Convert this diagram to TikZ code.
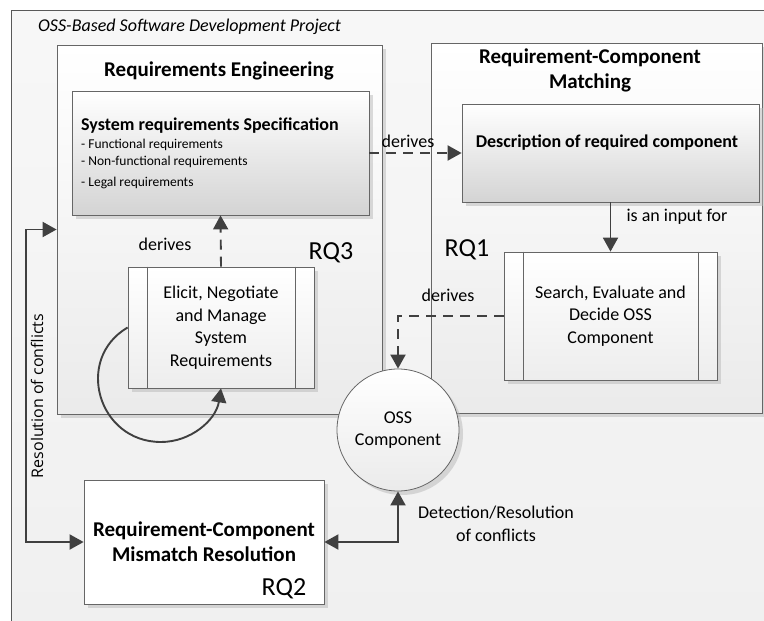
\documentclass[tikz,border=0pt]{standalone}
\usepackage{fontspec}
\setmainfont{Carlito}
\newfontfamily\sidefont{Open Sans}
\usetikzlibrary{arrows.meta,shadows}

\begin{document}
\begin{tikzpicture}[x=1pt,y=-1pt,>={Triangle[length=14pt,width=15pt]},
	box/.style={draw=black!60,line width=0.8pt,inner sep=0pt,
		drop shadow={shadow xshift=4pt,shadow yshift=-4pt,fill=black!28}},
	panel/.style={box,top color=white,bottom color=black!8},
	sheet/.style={box,top color=white,bottom color=black!17},
	proc/.style={box,top color=white,bottom color=black!7,
		font=\fontsize{18}{22.5}\selectfont,align=center},
	conn/.style={draw=black!75,line width=1.9pt},
	dashconn/.style={conn,dash pattern=on 10pt off 7pt},
	lab/.style={font=\fontsize{18}{22.5}\selectfont,align=center,inner sep=0pt},
	head/.style={font=\fontsize{21}{25}\selectfont\bfseries,align=center,inner sep=0pt},
	rq/.style={font=\fontsize{26}{30}\selectfont,inner sep=0pt}]
	\useasboundingbox (0,0) rectangle (764,621);
	\fill[top color=black!3,bottom color=black!6] (11,10) rectangle (800,660);
	\draw[black!65,line width=0.8pt] (800,10) -- (11,10) -- (11,660);
	\node[anchor=west,lab,font=\fontsize{18}{22}\selectfont\itshape] (project) at (38,27) {OSS-Based Software Development Project};

	\node[panel,minimum width=325pt,minimum height=369pt] (re) at (219.5,229.5) {};
	\node[panel,minimum width=331pt,minimum height=370pt] (rcm) at (596.5,228) {};
	\node[head] (retitle) at (219,71) {Requirements Engineering};
	\node[head] (rcmtitle) at (590,70) {Requirement-Component\\Matching};

	\node[sheet,minimum width=297pt,minimum height=124pt] (spec) at (220.5,153) {};
	\node[anchor=west,lab,font=\fontsize{18}{22}\selectfont\bfseries] (spectitle) at (81,126) {System requirements Specification};
	\node[anchor=west,lab,font=\fontsize{13.5}{16}\selectfont] (spec1) at (81,145) {- Functional requirements};
	\node[anchor=west,lab,font=\fontsize{13.5}{16}\selectfont] (spec2) at (81,162) {- Non-functional requirements};
	\node[anchor=west,lab,font=\fontsize{13.5}{16}\selectfont] (spec3) at (81,183) {- Legal requirements};

	\node[sheet,minimum width=297pt,minimum height=98pt] (desc) at (610.5,153) {};
	\node[lab,font=\fontsize{18}{22}\selectfont\bfseries] (desctext) at (607,143) {Description of required component};

	\node[proc,minimum width=186pt,minimum height=121pt] (elicit) at (221,327.5) {Elicit, Negotiate\\and Manage\\System\\Requirements};
	\draw[black!60,line width=0.8pt] ([xshift=20pt]elicit.north west) -- ([xshift=20pt]elicit.south west);
	\draw[black!60,line width=0.8pt] ([xshift=-19pt]elicit.north east) -- ([xshift=-19pt]elicit.south east);

	\node[proc,minimum width=213pt,minimum height=128pt] (search) at (610.5,316) {Search, Evaluate and\\Decide OSS\\Component};
	\draw[black!60,line width=0.8pt] ([xshift=20pt]search.north west) -- ([xshift=20pt]search.south west);
	\draw[black!60,line width=0.8pt] ([xshift=-19pt]search.north east) -- ([xshift=-19pt]search.south east);

	\node[box,fill=white,minimum width=240pt,minimum height=124pt,
		font=\fontsize{21}{25}\selectfont\bfseries,align=center] (mismatch) at (204,542) {Requirement-Component\\Mismatch Resolution};

	\node[box,circle,top color=white,bottom color=black!8,minimum size=122pt,
		font=\fontsize{18}{22.5}\selectfont,align=center] (oss) at (398,430) {OSS\\Component};

	\node[rq] (rq3) at (331,253) {RQ3};
	\node[rq] (rq1) at (467,250) {RQ1};
	\node[rq] (rq2) at (284,589) {RQ2};

	\draw[dashconn,->] (elicit.north) -- (spec.south);
	\node[lab] (derivesa) at (165,244) {derives};
	\draw[dashconn,->] (spec.east) -- (desc.west);
	\node[lab] (derivesb) at (408,141) {derives};
	\draw[conn,->] (desc.south) -- (search.north);
	\node[lab] (input) at (677,217) {is an input for};
	\draw[dashconn,->] (search.west) -| (oss.north);
	\node[lab] (derivesc) at (448,295) {derives};
	\draw[conn,<->] (mismatch.east) -| (oss.south);
	\node[lab] (detect) at (496,524) {Detection/Resolution\\of conflicts};

	\coordinate (rescorner) at (26,229.5);
	\draw[conn,<->] (re.west) -- (rescorner) |- (mismatch.west);
	\node[rotate=90,inner sep=0pt,font=\sidefont\fontsize{16}{19}\selectfont] (resolution) at (37,396) {Resolution of conflicts};

	\coordinate (loopbottom) at (161,442);
	\draw[conn,->] (elicit.west) .. controls (74,359) and (98,442) .. (loopbottom) .. controls (191,442) and (216,420) .. (elicit.south);
\end{tikzpicture}
\end{document}
